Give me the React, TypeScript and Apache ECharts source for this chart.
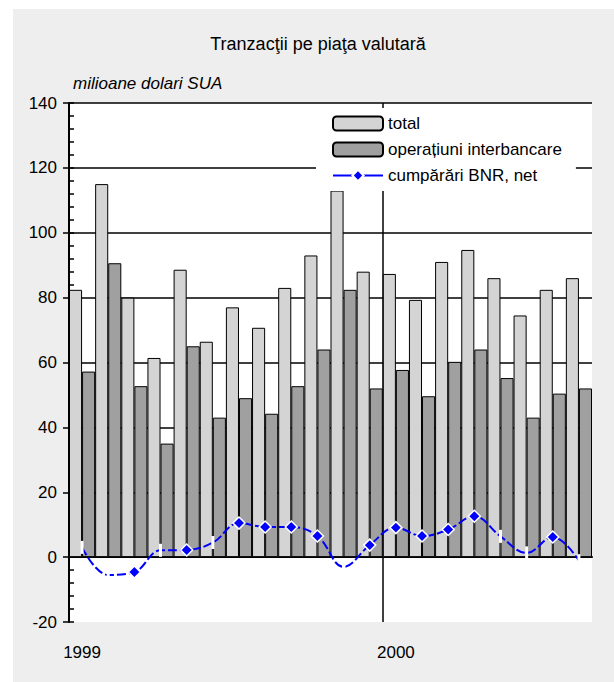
import React, { useEffect, useRef } from "react";
import * as echarts from "echarts";

const months = [
  "1999-01", "1999-02", "1999-03", "1999-04", "1999-05", "1999-06",
  "1999-07", "1999-08", "1999-09", "1999-10", "1999-11", "1999-12",
  "2000-01", "2000-02", "2000-03", "2000-04", "2000-05", "2000-06",
  "2000-07", "2000-08",
];
const yearTickIndexes = [0, 12];
const yearBoundaryIndex = 12;
const totalValues = [82.4, 115, 80, 61.4, 88.6, 66.4, 77, 70.7, 83, 93, 113, 88, 87.3, 79.3, 91, 94.7, 86, 74.5, 82.4, 86];
const interbankValues = [57.2, 90.6, 52.7, 35, 65, 43, 49, 44.2, 52.7, 64, 82.4, 52, 57.7, 49.6, 60.2, 64, 55.2, 43, 50.4, 52];
const bnrNetValues = [3, -5.5, -4.6, 2.1, 2.2, 4.5, 10.5, 9.3, 9.3, 6.5, -3, 3.7, 9.1, 6.5, 8.5, 12.6, 6.4, 1.3, 6.2, -1.1];
const diamondPoints = [2, 4, 6, 7, 8, 9, 11, 12, 13, 14, 15, 18];

const TITLE = "Tranzacţii pe piaţa valutară";
const UNIT = "milioane dolari SUA";
const S_TOTAL = "total";
const S_INTER = "operațiuni interbancare";
const S_BNR = "cumpărări BNR, net";

const FONT = "'Liberation Sans', Arial, Helvetica, sans-serif";

export default function App() {
  const ref = useRef<HTMLDivElement>(null);
  useEffect(() => {
    if (!ref.current) return;
    const chart = echarts.init(ref.current, null, { renderer: "svg" });
    const lineData = bnrNetValues.map((v, i) =>
      diamondPoints.includes(i)
        ? { value: v }
        : {
            value: v,
            symbol: "rect",
            symbolSize: [3, 13],
            itemStyle: { color: "#ffffff", borderWidth: 0 },
          }
    );
    const option: any = {
      animation: false,
      backgroundColor: "#ffffff",
      textStyle: { fontFamily: FONT },
      graphic: [
        {
          type: "rect",
          z: -10,
          silent: true,
          shape: { x: 13, y: 9, width: 601, height: 673 },
          style: { fill: "#eeeeee" },
        },
        {
          type: "text",
          x: 73,
          y: 83,
          style: {
            text: UNIT,
            font: `italic 17px ${FONT}`,
            fill: "#000",
            verticalAlign: "middle",
          },
        },
        {
          type: "text",
          x: 318,
          y: 44,
          style: {
            text: TITLE,
            font: `18px ${FONT}`,
            fill: "#000",
            align: "center",
            verticalAlign: "middle",
          },
        },
      ],
      grid: {
        left: 69,
        right: 22,
        top: 103,
        bottom: 60,
        show: true,
        backgroundColor: "#ffffff",
        borderWidth: 0,
        containLabel: false,
      },
      legend: {
        orient: "vertical",
        left: 316,
        top: 108,
        padding: [7, 14, 7, 16],
        backgroundColor: "#ffffff",
        itemWidth: 50,
        itemHeight: 14,
        itemGap: 9,
        textStyle: { fontSize: 17, color: "#000", fontFamily: FONT },
        data: [{ name: S_TOTAL }, { name: S_INTER }, { name: S_BNR }],
      },
      xAxis: [
        {
          type: "category",
          data: months,
          position: "bottom",
          boundaryGap: true,
          axisLine: { show: false, onZero: false },
          axisTick: { show: false },
          axisLabel: {
            interval: (i: number) => yearTickIndexes.includes(i),
            formatter: (v: string) => v.slice(0, 4),
            fontSize: 17,
            color: "#000",
            margin: 22,
            fontFamily: FONT,
          },
          splitLine: { show: false },
        },
        {
          type: "category",
          data: months,
          position: "bottom",
          axisLine: {
            show: true,
            onZero: true,
            onZeroAxisIndex: 0,
            lineStyle: { color: "#000", width: 2 },
          },
          axisTick: { show: false },
          axisLabel: { show: false },
          splitLine: { show: false },
        },
        {
          type: "value",
          min: 0,
          max: months.length,
          interval: yearBoundaryIndex,
          position: "top",
          axisLine: { show: false, onZero: false },
          axisTick: { show: false },
          axisLabel: { show: false },
          splitLine: {
            show: true,
            showMinLine: false,
            showMaxLine: false,
            lineStyle: { color: "#000", width: 1.5 },
          },
        },
      ],
      yAxis: [
        {
          type: "value",
          min: -20,
          max: 140,
          interval: 20,
          position: "left",
          axisLine: { show: true, lineStyle: { color: "#000", width: 2 } },
          axisTick: { show: true, inside: false, length: 6, lineStyle: { color: "#000", width: 1.5 } },
          axisLabel: { fontSize: 17, color: "#000", margin: 12, fontFamily: FONT },
          splitLine: {
            show: true,
            showMinLine: false,
            lineStyle: { color: "#000", width: 1.5 },
          },
        },
        {
          type: "value",
          min: -20,
          max: 140,
          interval: 4,
          position: "left",
          axisLine: { show: false },
          axisTick: { show: true, inside: true, length: 5, lineStyle: { color: "#000", width: 1.5 } },
          axisLabel: { show: false },
          splitLine: { show: false },
        },
      ],
      series: [
        {
          name: S_TOTAL,
          type: "bar",
          xAxisIndex: 0,
          yAxisIndex: 0,
          data: totalValues,
          barGap: "0%",
          barCategoryGap: "0%",
          itemStyle: { color: "#d4d4d4", borderColor: "#000", borderWidth: 1 },
        },
        {
          name: S_INTER,
          type: "bar",
          xAxisIndex: 0,
          yAxisIndex: 0,
          data: interbankValues,
          barGap: "0%",
          barCategoryGap: "0%",
          itemStyle: { color: "#a0a0a0", borderColor: "#000", borderWidth: 1 },
        },
        {
          // legend-only twin: gives the legend entry a solid line like the reference
          name: S_BNR,
          type: "line",
          xAxisIndex: 0,
          yAxisIndex: 0,
          data: [],
          symbol: "diamond",
          symbolSize: 12,
          lineStyle: { color: "#0000ff", width: 2, type: "solid" },
          itemStyle: { color: "#0000ff", borderColor: "#ffffff", borderWidth: 1 },
        },
        {
          name: S_BNR,
          type: "line",
          xAxisIndex: 0,
          yAxisIndex: 0,
          data: lineData,
          smooth: 0.4,
          symbol: "diamond",
          symbolSize: 12,
          showAllSymbol: true,
          z: 5,
          lineStyle: { color: "#0000ff", width: 2, type: [9, 3] },
          itemStyle: { color: "#0000ff", borderColor: "#ffffff", borderWidth: 1.5 },
        },
      ],
    };
    chart.setOption(option);
    return () => chart.dispose();
  }, []);
  return (
    <div
      ref={ref}
      style={{ position: "fixed", left: 0, top: 0, width: 614, height: 682 }}
    />
  );
}
